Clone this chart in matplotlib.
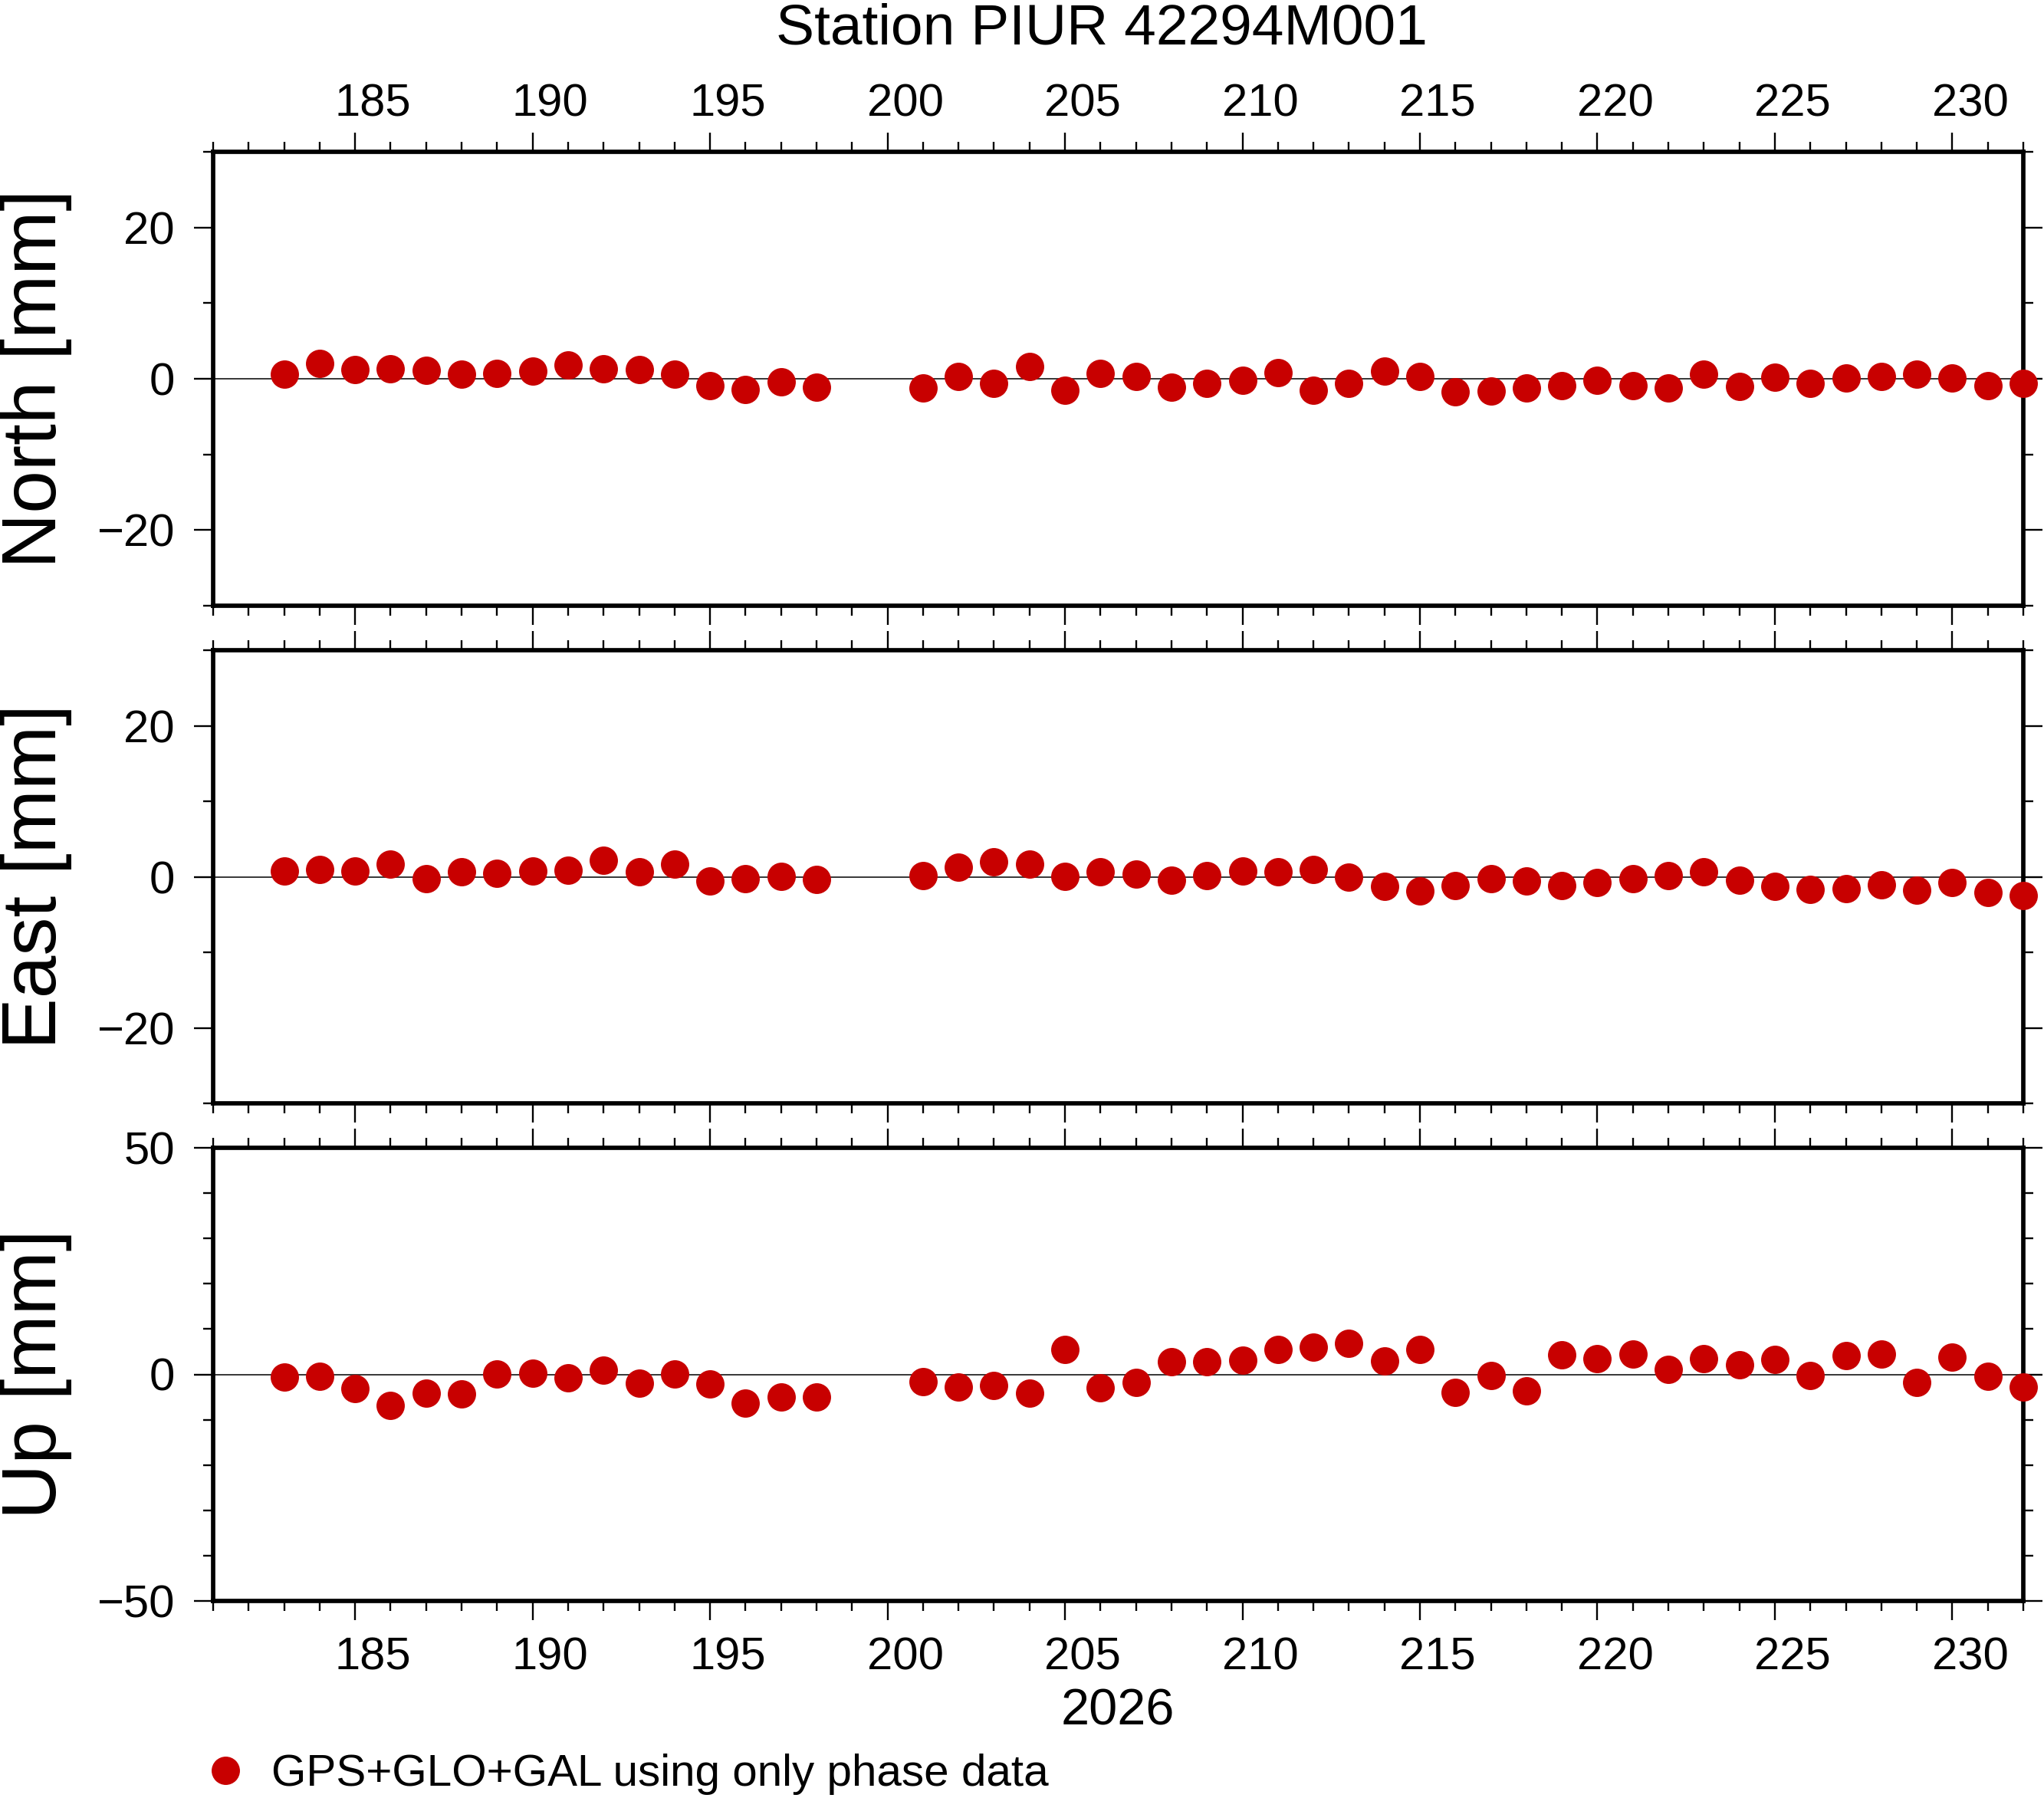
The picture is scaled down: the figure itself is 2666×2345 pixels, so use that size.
import matplotlib
matplotlib.use('Agg')
import matplotlib.pyplot as plt
import matplotlib.transforms as mtransforms

plt.rcParams['font.family'] = ['Liberation Sans', 'DejaVu Sans']

# day of year 2026, days 199 and 200 missing
days = list(range(183, 199)) + list(range(201, 233))

north = [0.56, 1.99, 1.25, 1.36, 1.16, 0.56, 0.74, 1.06, 1.78, 1.36, 1.25, 0.64, -0.96, -1.46, -0.45, -1.16,
         -1.26, 0.35, -0.56, 1.67, -1.57, 0.66, 0.35, -1.16, -0.56, -0.25,
         0.86, -1.57, -0.56, 1.06, 0.35, -1.77, -1.67, -1.26, -0.96, -0.25,
         -0.96, -1.26, 0.56, -1.06, 0.25, -0.56, 0.15, 0.35, 0.56, 0.15,
         -0.96, -0.59]
east = [0.77, 0.98, 0.77, 1.68, -0.24, 0.67, 0.47, 0.77, 0.88, 2.19, 0.67, 1.68, -0.54, -0.24, 0.07, -0.34,
        0.17, 1.28, 1.99, 1.68, 0.07, 0.67, 0.37, -0.44, 0.17, 0.77,
        0.67, 0.98, -0.03, -1.25, -1.85, -1.14, -0.24, -0.54, -1.14, -0.74,
        -0.24, 0.17, 0.67, -0.44, -1.25, -1.65, -1.55, -1.04, -1.75, -0.74,
        -2.05, -2.46]
up = [-0.65, -0.48, -3.18, -6.90, -4.19, -4.36, 0.03, 0.20, -0.82, 0.87, -2.00, 0.03, -2.17, -6.39, -5.04, -5.04,
      -1.66, -2.84, -2.51, -4.19, 5.43, -3.01, -1.83, 2.73, 2.73, 3.07,
      5.43, 5.94, 6.79, 2.90, 5.43, -4.03, -0.31, -3.69, 4.25, 3.41,
      4.42, 1.04, 3.41, 2.06, 3.24, -0.31, 4.08, 4.42, -1.83, 3.74,
      -0.48, -2.84]

xmin, xmax = 181, 232
xmajor = list(range(185, 231, 5))
xminor = list(range(181, 233))
xlabels = [str(d) for d in xmajor]

panels = [
    ('North [mm]', north, (-30, 30), [-20, 0, 20], list(range(-30, 31, 10))),
    ('East [mm]', east, (-30, 30), [-20, 0, 20], list(range(-30, 31, 10))),
    ('Up [mm]', up, (-50, 50), [-50, 0, 50], list(range(-50, 51, 10))),
]

red = '#c80000'
W, H = 2666, 2345
fig = plt.figure(figsize=(W / 200, H / 200), dpi=200)

left = 278 / W
width = (2639 - 278) / W
tops = [198, 848, 1497]
bottoms = [790, 1439, 2088]

axes = []
for i, (name, vals, ylim, yt, ym) in enumerate(panels):
    ax = fig.add_axes([left, 1 - bottoms[i] / H, width, (bottoms[i] - tops[i]) / H])
    axes.append(ax)
    ax.axhline(0, color='black', lw=0.55, zorder=1)
    ax.plot(days, vals, 'o', color=red, ms=13.3, mew=0, clip_on=False, zorder=3,
            label='GPS+GLO+GAL using only phase data')
    ax.set_xlim(xmin, xmax)
    ax.set_ylim(*ylim)
    ax.set_xticks(xmajor, labels=[])
    ax.set_xticks(xminor, minor=True)
    ax.set_yticks(yt)
    ax.set_yticks(ym, minor=True)
    ax.tick_params(which='both', direction='out', top=True, right=True, width=0.85, color='black')
    ax.tick_params(which='major', length=9, labelsize=21.5, pad=9)
    ax.tick_params(which='minor', length=4.8)
    for sp in ax.spines.values():
        sp.set_linewidth(2.05)
    h = bottoms[i] - tops[i]
    # day labels sit in the middle of the day interval
    trans = mtransforms.blended_transform_factory(ax.transData, ax.transAxes)
    if i == 0:
        for d, lab in zip(xmajor, xlabels):
            ax.text(d + 0.5, 1 + 47 / h, lab, transform=trans, ha='center', va='baseline', fontsize=21.5)
    if i == 2:
        for d, lab in zip(xmajor, xlabels):
            ax.text(d + 0.5, -90 / h, lab, transform=trans, ha='center', va='baseline', fontsize=21.5)
    fig.text(47 / W, 1 - (tops[i] + bottoms[i]) / 2 / H, name, rotation=90,
             ha='center', va='center', fontsize=36)

fig.text(1437 / W, 1 - 57 / H, 'Station PIUR 42294M001', ha='center', va='baseline', fontsize=27)
fig.text(1458 / W, 1 - 2250 / H, '2026', ha='center', va='baseline', fontsize=24)

handles, labels = axes[0].get_legend_handles_labels()
fig.legend(handles, labels, loc='center left', bbox_to_anchor=(265 / W, 1 - 2314 / H),
           frameon=False, fontsize=21, handlelength=1.0, handletextpad=0.53,
           borderpad=0, borderaxespad=0, numpoints=1, markerscale=1.0)

fig.savefig('out.png', dpi=200)
